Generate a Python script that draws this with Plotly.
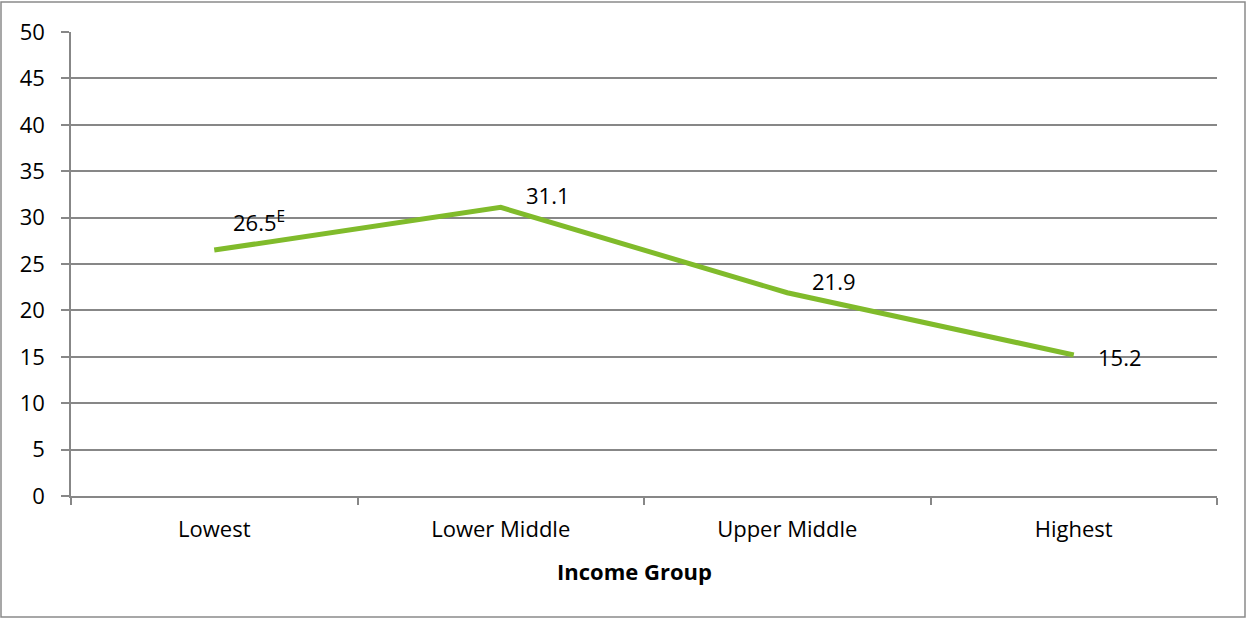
import plotly.graph_objects as go

categories = ["Lowest", "Lower Middle", "Upper Middle", "Highest"]
values = [26.5, 31.1, 21.9, 15.2]
value_labels = ["26.5<sup>E</sup>", "31.1", "21.9", "15.2"]
label_shift_x = [45, 47, 47, 46]
label_shift_y = [29, 12, 12, -2]
x_title = "Income Group"

FONT = "Open Sans, Lato, sans-serif"
FS = 22
GRID = "#878787"

fig = go.Figure()
fig.add_trace(go.Scatter(
    x=categories, y=values, mode="lines",
    line=dict(color="#80bb2b", width=5),
    hoverinfo="skip", showlegend=False,
))

for c, v, t, dx, dy in zip(categories, values, value_labels, label_shift_x, label_shift_y):
    fig.add_annotation(x=c, y=v, text=t, showarrow=False, xshift=dx, yshift=dy,
                       font=dict(family=FONT, size=FS, color="#000"))

fig.add_annotation(xref="paper", yref="paper", x=0.492, y=0, yanchor="middle", yshift=-75,
                   text="<b>" + x_title + "</b>", showarrow=False,
                   font=dict(family=FONT, size=FS, color="#000"))

fig.update_xaxes(
    type="category", range=[-0.5, 3.5],
    showline=True, linecolor=GRID, linewidth=1.5,
    ticks="outside", tickson="boundaries", ticklen=7, tickcolor=GRID, tickwidth=1.5,
    ticklabelstandoff=13,
    showgrid=False, tickfont=dict(family=FONT, size=FS, color="#000"),
)
fig.update_yaxes(
    range=[0, 50], dtick=5, tick0=0,
    showline=True, linecolor=GRID, linewidth=1.5,
    ticks="outside", ticklen=8, tickcolor=GRID, tickwidth=1.5,
    ticklabelstandoff=12,
    showgrid=True, gridcolor=GRID, gridwidth=1.5, zeroline=False,
    tickfont=dict(family=FONT, size=FS, color="#000"),
)

fig.add_shape(type="rect", xref="paper", yref="paper",
              x0=-70/1146, x1=1+28/1146, y0=-121/464, y1=1+30/464,
              line=dict(color="#8a8a8a", width=1.5), fillcolor="rgba(0,0,0,0)")

fig.update_layout(
    width=1247, height=619,
    margin=dict(l=71, r=30, t=32, b=123),
    paper_bgcolor="white", plot_bgcolor="white",
    font=dict(family=FONT),
)

fig.write_html("out.html", config={"displayModeBar": False},
               post_script="document.body.style.margin='0';")
